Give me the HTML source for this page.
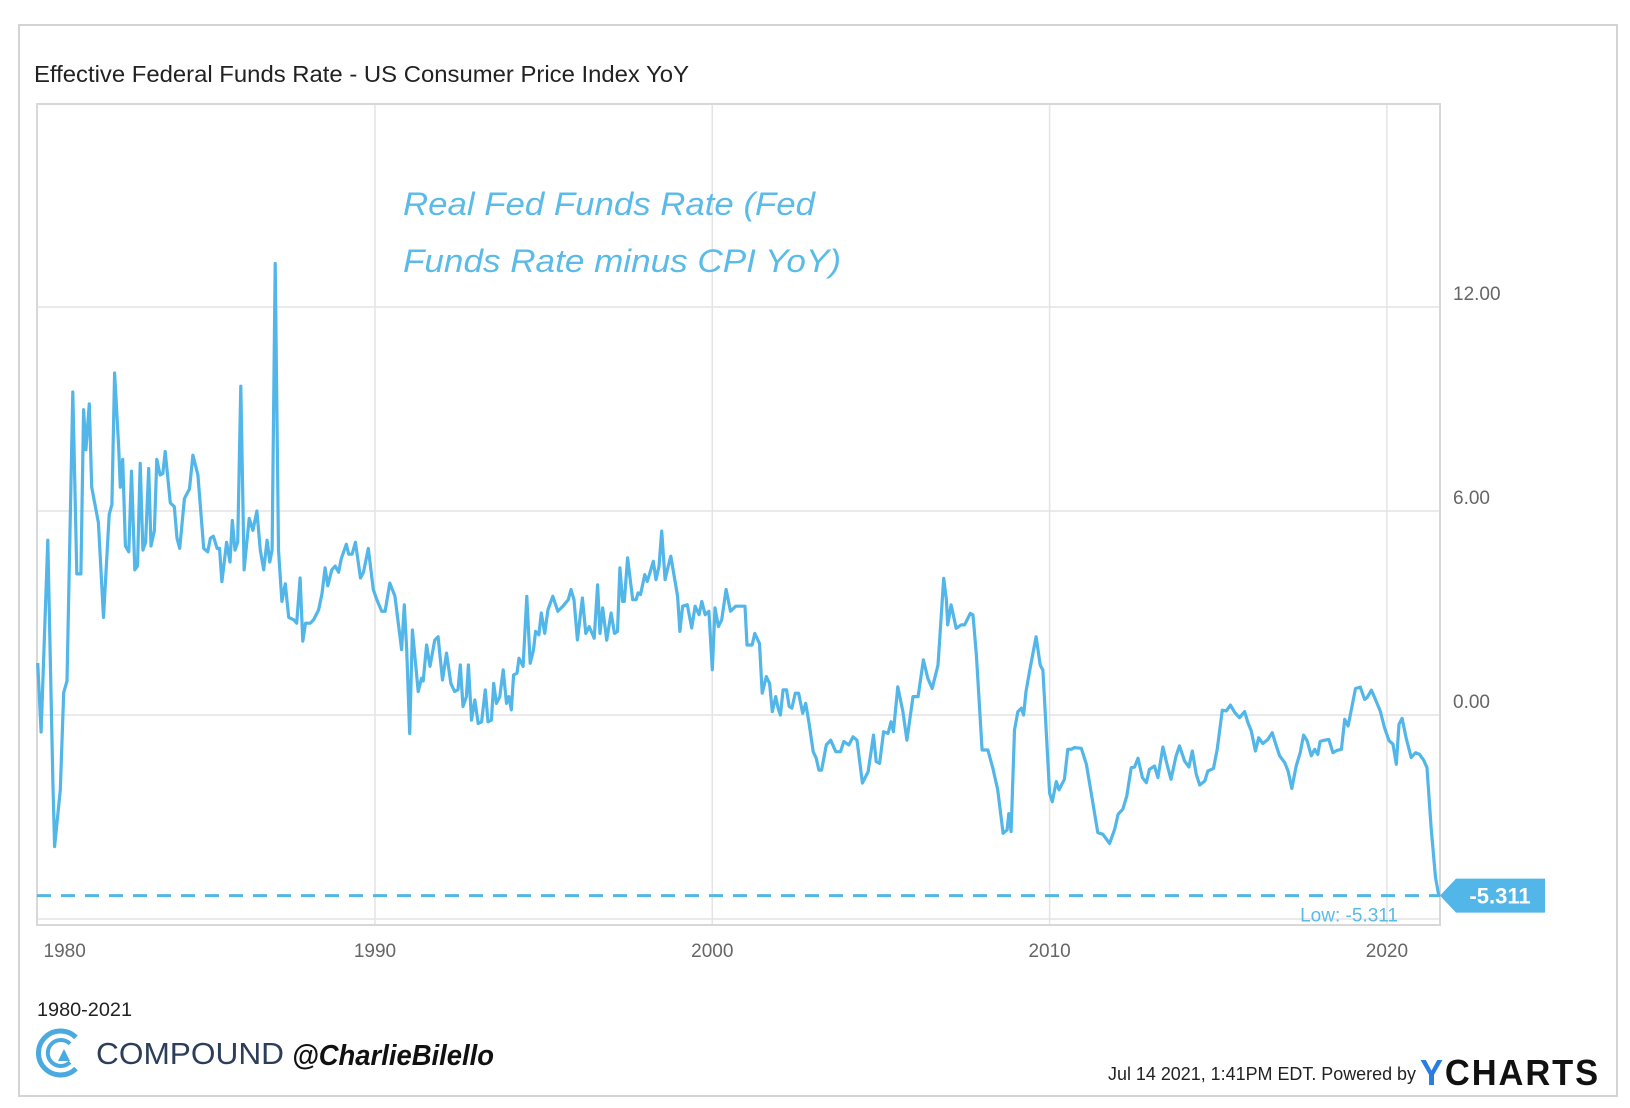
<!DOCTYPE html>
<html><head><meta charset="utf-8"><style>
html,body{margin:0;padding:0;background:#fff;}
svg{display:block;}
</style></head><body>
<svg id="chart" width="1630" height="1108" viewBox="0 0 1630 1108" xmlns="http://www.w3.org/2000/svg" font-family="'Liberation Sans', sans-serif">
<rect x="19" y="25" width="1598" height="1071" fill="#fff" stroke="#d4d4d4" stroke-width="2"/>
<text x="34" y="82" font-size="23" fill="#222" textLength="655" lengthAdjust="spacingAndGlyphs">Effective Federal Funds Rate - US Consumer Price Index YoY</text>
<g id="grid"></g>
<rect x="37" y="104" width="1403" height="821" fill="none" stroke="#d8d8d8" stroke-width="2"/>
<text x="403" y="215" font-size="32" font-style="italic" fill="#5bbbe8" textLength="412" lengthAdjust="spacingAndGlyphs">Real Fed Funds Rate (Fed</text>
<text x="403" y="272" font-size="32" font-style="italic" fill="#5bbbe8" textLength="438" lengthAdjust="spacingAndGlyphs">Funds Rate minus CPI YoY)</text>
<g id="axes"></g>
<g id="series"></g>
<text x="37" y="1016" font-size="19" fill="#222" textLength="95" lengthAdjust="spacingAndGlyphs">1980-2021</text>
<g>
<path d="M76 1037.4 A22 22 0 1 0 76 1068.6" fill="none" stroke="#4aa9e0" stroke-width="5"/>
<path d="M70 1043.8 A13 13 0 1 0 70 1062.2" fill="none" stroke="#4aa9e0" stroke-width="4"/>
<polygon points="58,1061 64,1049 70,1061" fill="#4aa9e0"/>
</g>
<text x="96" y="1064" font-size="31" fill="#2d3e5a" textLength="188" lengthAdjust="spacingAndGlyphs">COMPOUND</text>
<text x="292" y="1065" font-size="29" font-style="italic" font-weight="bold" fill="#111" textLength="202" lengthAdjust="spacingAndGlyphs">@CharlieBilello</text>
<text x="1108" y="1080" font-size="18" fill="#222" textLength="308" lengthAdjust="spacingAndGlyphs">Jul 14 2021, 1:41PM EDT.  Powered by</text>
<text x="1420" y="1085" font-size="36" font-weight="bold" fill="#111" textLength="180" lengthAdjust="spacingAndGlyphs" letter-spacing="2"><tspan fill="#2a7de1">Y</tspan>CHARTS</text>
</svg>
<script>
const years = [1980.0,1980.1,1980.3,1980.45,1980.5,1980.67,1980.77,1980.87,1981.04,1981.16,1981.28,1981.36,1981.43,1981.53,1981.6,1981.8,1981.95,1982.12,1982.2,1982.28,1982.4,1982.45,1982.52,1982.6,1982.7,1982.78,1982.88,1982.96,1983.04,1983.12,1983.2,1983.29,1983.36,1983.46,1983.53,1983.63,1983.71,1983.78,1983.93,1984.05,1984.13,1984.21,1984.35,1984.41,1984.5,1984.6,1984.75,1984.92,1985.04,1985.12,1985.21,1985.32,1985.39,1985.46,1985.6,1985.7,1985.77,1985.85,1985.93,1986.02,1986.12,1986.27,1986.38,1986.5,1986.6,1986.7,1986.8,1986.88,1986.95,1987.04,1987.14,1987.24,1987.34,1987.44,1987.59,1987.68,1987.78,1987.86,1987.94,1988.08,1988.18,1988.33,1988.43,1988.52,1988.6,1988.72,1988.82,1988.92,1989.0,1989.15,1989.22,1989.32,1989.42,1989.57,1989.66,1989.8,1989.95,1990.05,1990.2,1990.3,1990.44,1990.59,1990.79,1990.87,1990.94,1991.03,1991.11,1991.28,1991.38,1991.43,1991.53,1991.63,1991.77,1991.87,1992.0,1992.12,1992.25,1992.36,1992.46,1992.53,1992.61,1992.71,1992.77,1992.86,1992.96,1993.06,1993.16,1993.27,1993.35,1993.45,1993.52,1993.6,1993.7,1993.8,1993.9,1993.97,1994.04,1994.11,1994.21,1994.27,1994.39,1994.5,1994.6,1994.7,1994.76,1994.86,1994.93,1995.03,1995.13,1995.27,1995.42,1995.57,1995.73,1995.81,1995.9,1996.0,1996.15,1996.25,1996.35,1996.5,1996.6,1996.67,1996.75,1996.87,1997.0,1997.1,1997.19,1997.26,1997.34,1997.39,1997.49,1997.64,1997.74,1997.8,1997.87,1998.0,1998.07,1998.12,1998.25,1998.33,1998.42,1998.5,1998.6,1998.67,1998.77,1998.87,1998.97,1999.04,1999.12,1999.26,1999.39,1999.49,1999.61,1999.69,1999.79,1999.9,2000.0,2000.08,2000.18,2000.28,2000.41,2000.54,2000.69,2000.81,2000.97,2001.03,2001.18,2001.26,2001.4,2001.48,2001.6,2001.7,2001.78,2001.88,2001.95,2002.02,2002.1,2002.2,2002.28,2002.36,2002.46,2002.56,2002.68,2002.77,2002.87,2002.99,2003.08,2003.16,2003.24,2003.38,2003.51,2003.66,2003.8,2003.9,2004.05,2004.17,2004.29,2004.45,2004.62,2004.78,2004.86,2004.96,2005.08,2005.21,2005.3,2005.37,2005.5,2005.65,2005.77,2005.95,2006.1,2006.26,2006.39,2006.52,2006.69,2006.86,2006.94,2006.98,2007.08,2007.23,2007.38,2007.48,2007.65,2007.73,2007.83,2008.0,2008.17,2008.32,2008.46,2008.62,2008.74,2008.79,2008.86,2008.96,2009.06,2009.16,2009.23,2009.3,2009.43,2009.6,2009.72,2009.8,2010.0,2010.08,2010.2,2010.28,2010.44,2010.54,2010.64,2010.74,2010.94,2011.09,2011.24,2011.43,2011.58,2011.78,2011.93,2012.03,2012.17,2012.29,2012.42,2012.52,2012.62,2012.75,2012.87,2012.96,2013.11,2013.21,2013.36,2013.48,2013.6,2013.75,2013.85,2014.0,2014.13,2014.23,2014.35,2014.45,2014.6,2014.69,2014.86,2014.97,2015.12,2015.24,2015.36,2015.49,2015.63,2015.78,2015.88,2015.98,2016.1,2016.2,2016.32,2016.47,2016.6,2016.72,2016.82,2016.97,2017.07,2017.18,2017.31,2017.43,2017.53,2017.63,2017.76,2017.86,2017.95,2018.02,2018.15,2018.28,2018.4,2018.52,2018.65,2018.75,2018.85,2018.94,2019.07,2019.21,2019.34,2019.41,2019.54,2019.66,2019.8,2019.93,2020.06,2020.18,2020.28,2020.36,2020.45,2020.57,2020.72,2020.85,2020.97,2021.09,2021.19,2021.31,2021.44,2021.54];
const values = [1.53,-0.5,5.14,-2.0,-3.87,-2.2,0.66,1.0,9.5,4.15,4.15,8.98,7.8,9.15,6.7,5.66,2.87,5.9,6.19,10.06,7.87,6.7,7.52,4.97,4.8,7.17,4.27,4.38,7.4,4.85,5.08,7.25,4.97,5.43,7.52,7.06,7.1,7.75,6.24,6.13,5.2,4.9,6.36,6.48,6.65,7.64,7.06,4.9,4.8,5.2,5.26,4.9,4.9,3.92,5.08,4.5,5.72,4.85,5.08,9.67,4.27,5.78,5.43,6.0,4.85,4.27,5.14,4.5,4.85,13.28,4.85,3.34,3.86,2.87,2.8,2.7,4.03,2.17,2.7,2.7,2.8,3.1,3.57,4.33,3.8,4.27,4.38,4.2,4.6,5.02,4.73,4.73,5.08,4.03,4.2,4.9,3.69,3.4,3.05,3.05,3.88,3.5,1.92,3.24,1.92,-0.54,2.5,0.69,1.08,1.0,2.06,1.43,2.2,2.3,1.03,1.82,0.93,0.69,0.74,1.47,0.25,0.54,1.47,-0.15,0.44,-0.25,-0.2,0.74,-0.2,-0.15,0.93,0.34,0.54,1.33,0.34,0.54,0.15,1.18,1.23,1.67,1.43,3.49,1.52,1.92,2.46,2.36,3.0,2.4,3.1,3.49,3.05,3.2,3.39,3.69,3.39,2.21,3.44,2.4,2.6,2.26,3.83,2.4,3.15,2.2,3.0,2.4,2.46,4.33,3.34,3.34,4.62,3.39,3.39,3.59,3.54,4.13,3.93,4.08,4.52,3.98,4.37,5.41,3.98,4.28,4.67,4.08,3.49,2.46,3.2,3.24,2.56,3.2,2.95,3.34,2.95,3.05,1.33,3.15,2.6,2.8,3.69,3.05,3.2,3.2,3.2,2.06,2.06,2.4,2.1,0.64,1.13,0.93,0.1,0.54,0.2,0.0,0.74,0.74,0.25,0.2,0.64,0.64,0.05,0.34,-0.25,-1.08,-1.27,-1.62,-1.62,-0.88,-0.74,-1.08,-1.08,-0.78,-0.88,-0.64,-0.74,-2.0,-1.67,-0.59,-1.37,-1.42,-0.49,-0.54,-0.2,-0.49,0.83,0.1,-0.74,0.54,0.54,1.62,1.08,0.78,1.47,4.02,3.38,2.65,3.24,2.55,2.65,2.65,2.99,2.94,1.76,-1.03,-1.03,-1.57,-2.2,-3.48,-3.38,-2.9,-3.43,-0.44,0.1,0.2,0.0,0.69,1.42,2.3,1.47,1.32,-2.3,-2.55,-1.96,-2.2,-1.89,-1.01,-1.01,-0.96,-0.98,-1.45,-2.33,-3.46,-3.51,-3.78,-3.36,-2.92,-2.77,-2.38,-1.55,-1.53,-1.27,-1.84,-1.99,-1.6,-1.5,-1.84,-0.94,-1.45,-1.89,-1.2,-0.91,-1.35,-1.53,-1.06,-1.75,-2.06,-1.94,-1.65,-1.57,-1.01,0.14,0.12,0.29,0.07,-0.08,0.1,-0.22,-0.47,-1.06,-0.67,-0.84,-0.72,-0.52,-0.91,-1.2,-1.4,-1.65,-2.16,-1.5,-1.11,-0.59,-0.75,-1.2,-1.01,-1.16,-0.78,-0.74,-0.72,-1.11,-1.04,-1.01,-0.13,-0.32,0.12,0.78,0.82,0.46,0.51,0.73,0.46,0.12,-0.37,-0.75,-0.86,-1.45,-0.27,-0.1,-0.67,-1.25,-1.11,-1.16,-1.33,-1.55,-3.31,-4.78,-5.311];
const xTickYears = [1980, 1990, 2000, 2010, 2020];
const xTickLabels = ["1980", "1990", "2000", "2010", "2020"];
const yTickValues = [12, 6, 0, -6];
const yTickLabels = ["12.00", "6.00", "0.00", "-6.00"];
const lowValue = [-5.311];
const lowLabel = ["-5.311"];

const NS = "http://www.w3.org/2000/svg";
const PL = 37, PR = 1440, PT = 104, PB = 925;
function xs(yr){ return 37.7 + (yr - 1980) * 33.73; }
function ys(v){ return 715 - 34 * v; }
function mk(tag, attrs, parent){ const e = document.createElementNS(NS, tag); for (const k in attrs) e.setAttribute(k, attrs[k]); parent.appendChild(e); return e; }

const grid = document.getElementById('grid');
const axes = document.getElementById('axes');
const series = document.getElementById('series');

xTickYears.forEach((yr, i) => {
  const x = xs(yr);
  if (i > 0) {
    const gl = mk('line', {x1:x, x2:x, y1:PT, y2:PB, stroke:'#e4e4e4', 'stroke-width':1.5}, grid);
    
    
  }
  const t = mk('text', {x: i === 0 ? x + 27 : x, y: 957, 'font-size': 19, fill: '#666', 'text-anchor': 'middle'}, axes);
  t.textContent = xTickLabels[i];
  
  
});
yTickValues.forEach((v, i) => {
  const y = ys(v);
  const gl = mk('line', {x1:PL, x2:PR, y1:y, y2:y, stroke:'#e4e4e4', 'stroke-width':1.5}, grid);
  
  
  const t = mk('text', {x: 1453, y: y - 7, 'font-size': 19, fill: '#666'}, axes);
  t.textContent = yTickLabels[i];
  
  
});

let d = '';
years.forEach((yr, i) => { d += (i ? 'L' : 'M') + xs(yr).toFixed(1) + ' ' + ys(values[i]).toFixed(1); });
const line = mk('path', {d: d, fill: 'none', stroke: '#52b6e8', 'stroke-width': 3.2, 'stroke-linejoin': 'round'}, series);



const ly = ys(lowValue[0]);
const dash = mk('line', {x1: PL, x2: PR, y1: ly, y2: ly, stroke: '#52b6e8', 'stroke-width': 3, 'stroke-dasharray': '14 10'}, series);


const lowText = mk('text', {x: 1398, y: ly + 26, 'font-size': 19, fill: '#5bbbe8', 'text-anchor': 'end'}, series);
lowText.textContent = 'Low: ' + lowLabel[0];


const tag = mk('polygon', {points: `1440,${ly} 1456,${ly-17} 1545,${ly-17} 1545,${ly+17} 1456,${ly+17}`, fill: '#52b6e8'}, series);


const tagText = mk('text', {x: 1500, y: ly + 8, 'font-size': 22, fill: '#fff', 'text-anchor': 'middle', 'font-weight': 'bold'}, series);
tagText.textContent = lowLabel[0];


</script>
</body></html>
